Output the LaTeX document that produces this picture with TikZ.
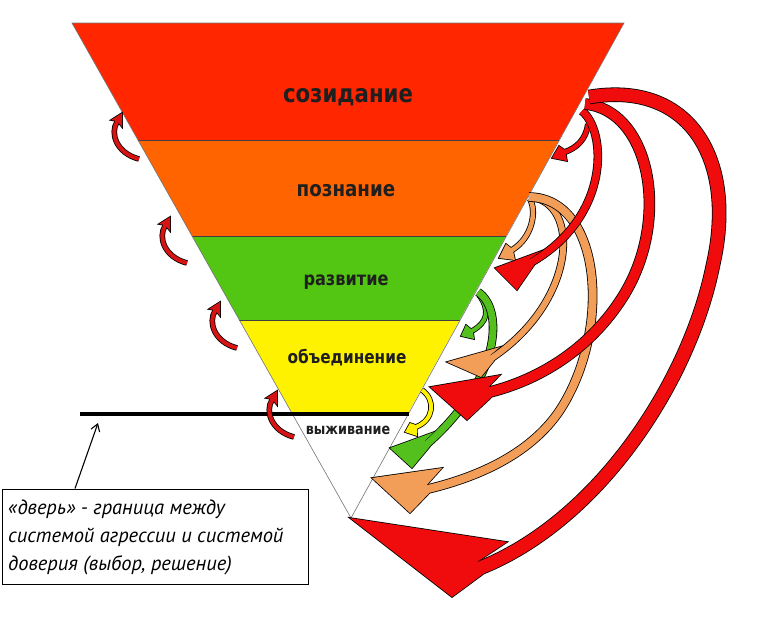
\documentclass[tikz,border=0pt]{standalone}
\usepackage{fontspec}
\usetikzlibrary{calc,arrows.meta}
\newfontfamily\labfont{DejaVu Sans}[FakeStretch=0.85]
\newfontfamily\notefont{PT Sans}
\definecolor{bandred}{RGB}{255,38,0}
\definecolor{bandorange}{RGB}{255,100,0}
\definecolor{bandgreen}{RGB}{82,198,18}
\definecolor{bandyellow}{RGB}{255,242,0}
\definecolor{ared}{RGB}{240,12,12}
\definecolor{aorange}{RGB}{242,158,88}
\definecolor{agreen}{RGB}{84,192,30}
\definecolor{ayellow}{RGB}{255,240,0}
\definecolor{curlred}{RGB}{214,20,20}
% #1 colour, #2 shaft width, #3 half width, #4 shaft path up to the end, #5 end, #6 last control, #7 tip, #8 wing (90 side), #9 wing (-90 side)
\newcommand\fatarrow[9]{%
  \path (#5) coordinate (tmpE) (#6) coordinate (tmpC);
  \coordinate (tmpA) at ($(tmpE)!#3!90:(tmpC)$);
  \coordinate (tmpB) at ($(tmpE)!#3!-90:(tmpC)$);
  \filldraw[fill=#1, draw=black, line width=1.6pt] (#7) -- (#8) -- (tmpA) -- (tmpB) -- (#9) -- cycle;
  \draw[draw=black, line width=0.8pt, double=#1, double distance=#2] #4 (tmpE) -- ($(tmpE)!-6pt!(tmpC)$);
  \fill[#1] (#7) -- (#8) -- (tmpA) -- (tmpB) -- (#9) -- cycle;
}
\begin{document}
\begin{tikzpicture}[x=1pt,y=-1pt,
  lbl/.style={font=\labfont\bfseries, text=black!88, inner sep=0pt},
  notetxt/.style={font=\notefont\itshape\fontsize{20.5}{20.5}\selectfont, inner sep=0pt, anchor=base west},
  bandedge/.style={draw=black!75, line width=0.7pt}]
\useasboundingbox (0,0) rectangle (757,622);
% pyramid
\coordinate (TL) at (72,23); \coordinate (TR) at (624,23); \coordinate (AP) at (351,518);
\coordinate (L1) at (138,140); \coordinate (R1) at (559.2,140);
\coordinate (L2) at (192,236); \coordinate (R2) at (506.1,236);
\coordinate (L3) at (239.4,320); \coordinate (R3) at (459.6,320);
\coordinate (L4) at (291.8,413); \coordinate (R4) at (408.1,413);
\fill[bandred] (TL) -- (TR) -- (R1) -- (L1) -- cycle;
\fill[bandorange] (L1) -- (R1) -- (R2) -- (L2) -- cycle;
\fill[bandgreen] (L2) -- (R2) -- (R3) -- (L3) -- cycle;
\fill[bandyellow] (L3) -- (R3) -- (R4) -- (L4) -- cycle;
\draw[bandedge] (L1) -- (R1) (L2) -- (R2) (L3) -- (R3);
\draw[draw=black!55, line width=0.6pt] (TL) -- (TR) -- (AP) -- cycle;
% labels
\node[lbl, font=\labfont\bfseries\fontsize{25}{25}\selectfont] (sozid) at (348,97) {созидание};
\node[lbl, font=\labfont\bfseries\fontsize{21.5}{21.5}\selectfont] (pozn) at (346,191) {познание};
\node[lbl, font=\labfont\bfseries\fontsize{19}{19}\selectfont] (razv) at (346,282) {развитие};
\node[lbl, font=\labfont\bfseries\fontsize{18}{18}\selectfont] (obed) at (347,358) {объединение};
\node[lbl, font=\labfont\bfseries\fontsize{15}{15}\selectfont] (vyzh) at (348,430) {выживание};
% door line
\coordinate (doorL) at (80,414); \coordinate (doorR) at (409,414);
\draw[line width=4pt] (doorL) -- (doorR);
% small curls on the left
\foreach \sx/\sy in {120/113, 168/217, 218/302, 275/391}{
  \begin{scope}[shift={(\sx,\sy)}]
    \fatarrow{curlred}{4pt}{2.4pt}{(19,46) .. controls (-4,40) and (-10,20) ..}{-3,9}{-10,20}{2,0}{2,14}{-9,7}
  \end{scope}
}
% right side arrows
\fatarrow{agreen}{4pt}{2.4pt}{(479,295) .. controls (490,310) and (488,322) ..}{472,331}{488,322}{461,336}{466,325}{474,339}
\fatarrow{agreen}{7pt}{3.9pt}{(478,292) .. controls (505,310) and (500,380) ..}{427,444}{500,380}{390,448}{434,432}{412,468}
\fatarrow{ayellow}{4pt}{2.4pt}{(422,390) .. controls (436,400) and (434,420) ..}{416,427}{434,420}{405,432}{410,423}{417,436}
\fatarrow{aorange}{4.5pt}{2.6pt}{(530,199) .. controls (537,212) and (532,238) ..}{512,250}{532,238}{499,258}{506,244}{515,260}
\fatarrow{aorange}{6pt}{3.4pt}{(531,197) .. controls (580,203) and (578,300) ..}{492,358}{578,300}{447,362}{500,347}{481,377}
\fatarrow{aorange}{8pt}{4.4pt}{(529,197) .. controls (602,198) and (612,330) .. (560,410) .. controls (532,452) and (482,476) ..}{428,489}{482,476}{372,478}{442,468}{410,513}
\fatarrow{ared}{4.5pt}{2.6pt}{(588,124) .. controls (586,140) and (576,148) ..}{565,152}{576,148}{552,158}{559,146}{567,161}
\fatarrow{ared}{7pt}{3.9pt}{(582,111) .. controls (606,130) and (612,215) ..}{532,262}{612,215}{495,268}{541,251}{517,290}
\fatarrow{ared}{10pt}{5.4pt}{(585,104) .. controls (650,110) and (672,220) .. (622,298) .. controls (592,345) and (545,378) ..}{490,392}{545,378}{430,387}{500,375}{467,420}
\fatarrow{ared}{13pt}{6.9pt}{(589,97) .. controls (690,80) and (737,160) .. (713,265) .. controls (690,380) and (600,520) ..}{480,568}{600,520}{350,518}{507,542}{452,597}
% note box
\node[draw, line width=1.6pt, minimum width=306pt, minimum height=95pt, inner sep=0pt, anchor=north west] (note) at (1.5,488.5) {};
\node[notetxt] (t1) at (8,514) {«дверь» - граница между};
\node[notetxt] (t2) at (8,542) {системой агрессии и системой};
\node[notetxt] (t3) at (8,570) {доверия (выбор, решение)};
\coordinate (noteTail) at ($(note.north west)+(73.5,0)$);
\coordinate (doorMark) at (98,423);
\draw[line width=1.1pt, -{Straight Barb[length=7pt,width=9pt]}] (noteTail) -- (doorMark);
\end{tikzpicture}
\end{document}
